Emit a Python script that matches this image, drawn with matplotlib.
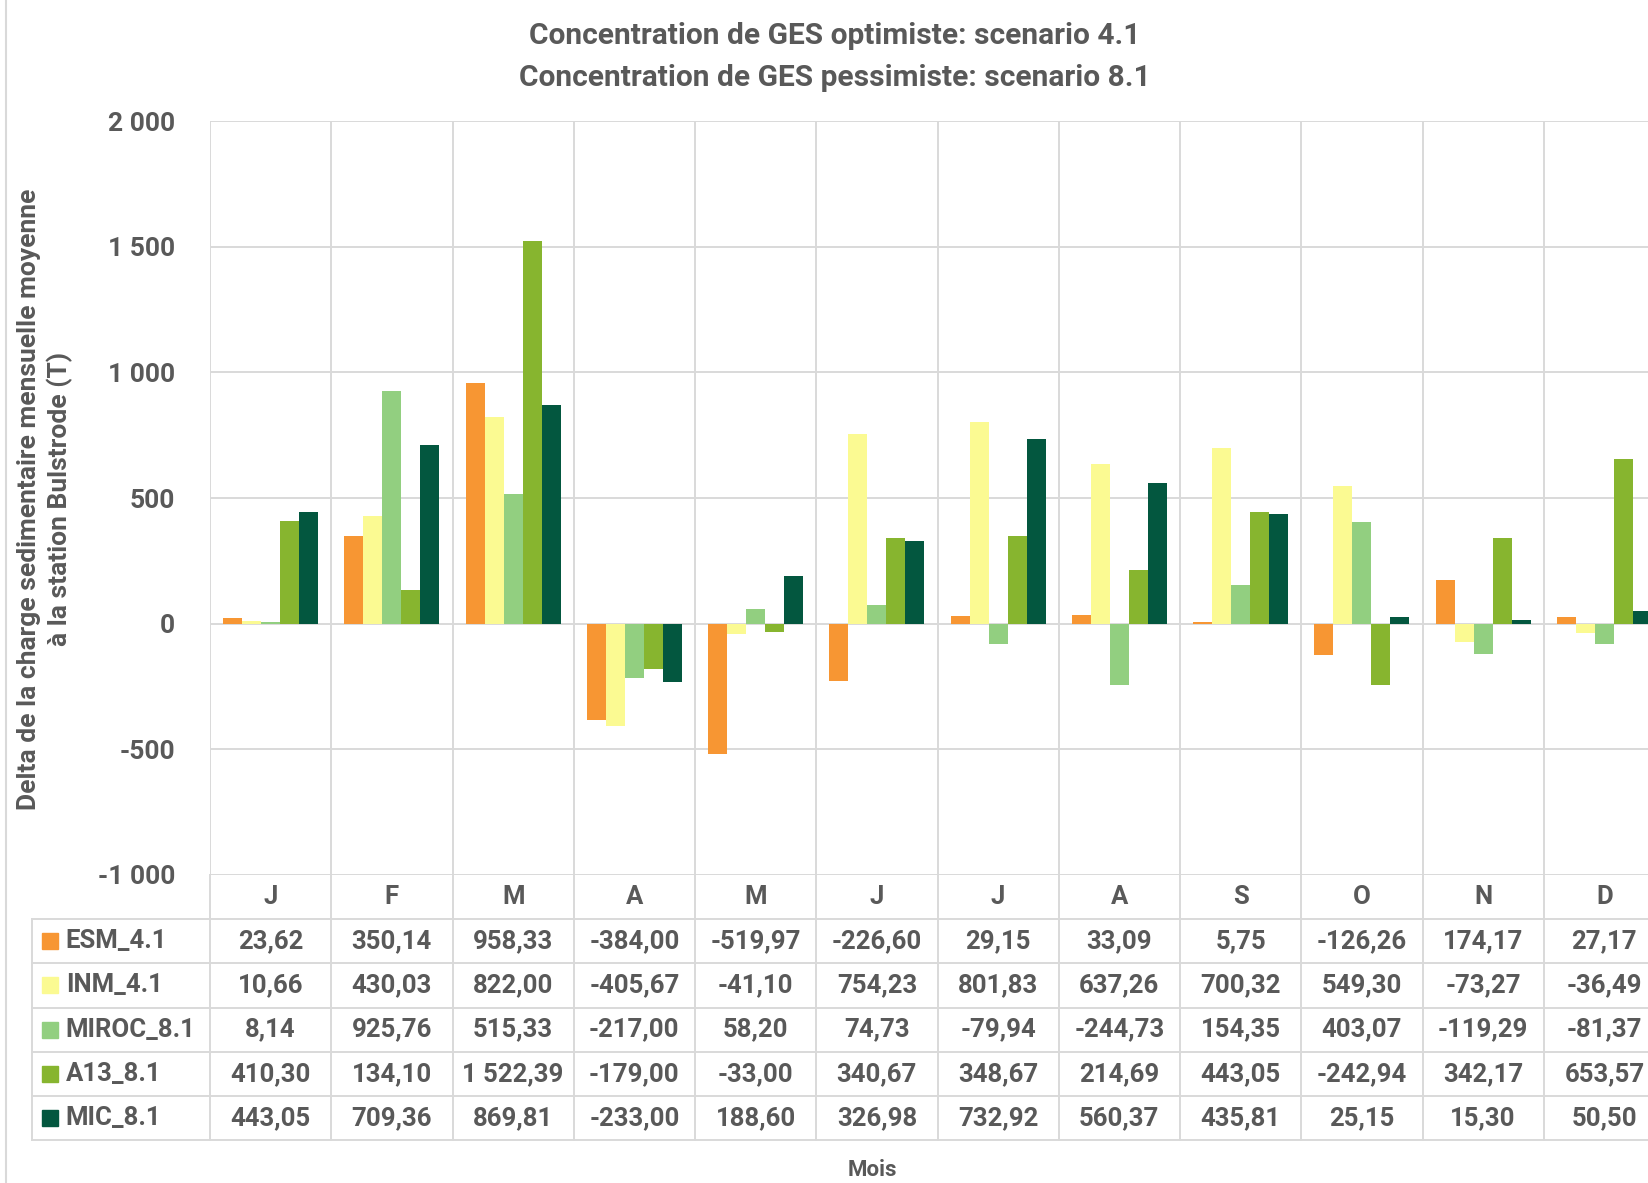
import numpy as np
import matplotlib
matplotlib.use("Agg")
import matplotlib.pyplot as plt

# =========================
# DONNÉES
# =========================
months = ["J", "F", "M", "A", "M", "J", "J", "A", "S", "O", "N", "D"]
series_names = ["ESM_4.1", "INM_4.1", "MIROC_8.1", "A13_8.1", "MIC_8.1"]
esm_41 = [23.62, 350.14, 958.33, -384.00, -519.97, -226.60, 29.15, 33.09, 5.75, -126.26, 174.17, 27.17]
inm_41 = [10.66, 430.03, 822.00, -405.67, -41.10, 754.23, 801.83, 637.26, 700.32, 549.30, -73.27, -36.49]
miroc_81 = [8.14, 925.76, 515.33, -217.00, 58.20, 74.73, -79.94, -244.73, 154.35, 403.07, -119.29, -81.37]
a13_81 = [410.30, 134.10, 1522.39, -179.00, -33.00, 340.67, 348.67, 214.69, 443.05, -242.94, 342.17, 653.57]
mic_81 = [443.05, 709.36, 869.81, -233.00, 188.60, 326.98, 732.92, 560.37, 435.81, 25.15, 15.30, 50.50]
series_values = [esm_41, inm_41, miroc_81, a13_81, mic_81]
colors = ["#F79633", "#FBFA92", "#92CF80", "#87B52F", "#03573F"]
y_ticks = [-1000, -500, 0, 500, 1000, 1500, 2000]

TEXT = "#595959"
GRID = "#D9D9D9"
FONT = "Roboto"
FW = "bold"
FS = 18.5

W, H = 1648, 1183


def fmt(v):
    s = f"{v:,.2f}"
    return s.replace(",", " ").replace(".", ",")


def fmt_tick(v):
    return f"{v:,.0f}".replace(",", " ")


fig = plt.figure(figsize=(W / 100, H / 100), dpi=100)
fig.patch.set_facecolor("white")

x0, x1 = 210, 1665
ax = fig.add_axes([x0 / W, 1 - 875 / H, (x1 - x0) / W, (875 - 121) / H])
ax.set_xlim(0, 12)
ax.set_ylim(-1000, 2000)
for sp in ax.spines.values():
    sp.set_visible(False)
ax.set_xticks(range(13))
ax.set_yticks(y_ticks)
ax.set_yticklabels([fmt_tick(v) for v in y_ticks], fontsize=19, fontweight=FW,
                   color=TEXT, family=FONT)
ax.tick_params(length=0, labelbottom=False, pad=25)
ax.grid(True, color=GRID, lw=1.4)
ax.set_axisbelow(True)

bw = 0.157
idx = np.arange(12)
for i, (vals, c) in enumerate(zip(series_values, colors)):
    ax.bar(idx + 0.5 + (i - 2) * bw, vals, width=bw, color=c, zorder=3)

# =========================
# TABLEAU
# =========================
tax = fig.add_axes([x0 / W, 1 - 1140 / H, (x1 - x0) / W, 265 / H])
tax.set_xlim(0, 12)
tax.set_ylim(6, 0)
tax.axis("off")
leg_left = -1.47
for k in range(13):
    tax.plot([k, k], [0, 6], color=GRID, lw=1.4, clip_on=False)
for r in range(1, 7):
    tax.plot([leg_left, 12], [r, r], color=GRID, lw=1.4, clip_on=False)
tax.plot([leg_left, leg_left], [1, 6], color=GRID, lw=1.4, clip_on=False)

for k, m in enumerate(months):
    tax.text(k + 0.5, 0.5, m, ha="center", va="center", fontsize=FS,
             fontweight=FW, color=TEXT, family=FONT, clip_on=False)

for r, (name, vals, c) in enumerate(zip(series_names, series_values, colors)):
    yy = r + 1.5
    tax.plot([-1.32], [yy], marker="s", ms=12, color=c, clip_on=False)
    tax.text(-1.19, yy, name, ha="left", va="center", fontsize=FS,
             fontweight=FW, color=TEXT, family=FONT, clip_on=False)
    for k, v in enumerate(vals):
        tax.text(k + 0.5, yy, fmt(v), ha="center", va="center", fontsize=FS,
                 fontweight=FW, color=TEXT, family=FONT, clip_on=False)

# =========================
# TITRES
# =========================
fig.text(835 / W, 1 - 36 / H, "Concentration de GES optimiste: scenario 4.1",
         ha="center", va="center", fontsize=21.5, fontweight=FW, color=TEXT, family=FONT)
fig.text(835 / W, 1 - 78 / H, "Concentration de GES pessimiste: scenario 8.1",
         ha="center", va="center", fontsize=21.5, fontweight=FW, color=TEXT, family=FONT)
fig.text(45 / W, 1 - 499 / H,
         "Delta de la charge sedimentaire mensuelle moyenne\nà la station Bulstrode (T)",
         ha="center", va="center", rotation=90, fontsize=19, fontweight=FW,
         color=TEXT, family=FONT, multialignment="center", linespacing=1.3)
fig.text(872 / W, 1 - 1170 / H, "Mois", ha="center", va="center", fontsize=16,
         fontweight=FW, color=TEXT, family=FONT)

fig.add_artist(plt.Line2D([6 / W, 6 / W], [0, 1], color=GRID, lw=1.5))

fig.savefig("out.png", dpi=100)
